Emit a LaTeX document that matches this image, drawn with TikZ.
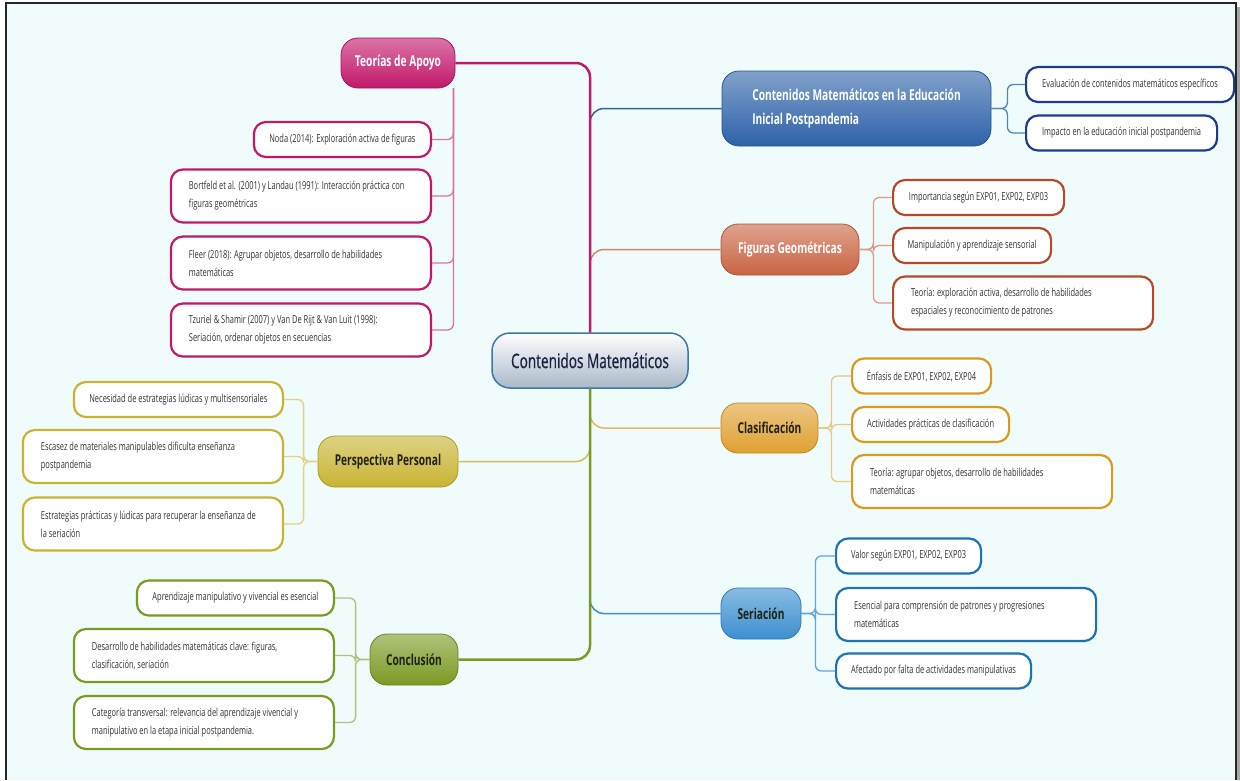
\documentclass[tikz,border=0pt]{standalone}
\usepackage{fontspec}
\setmainfont{Open Sans}[FakeStretch=0.68]
\usetikzlibrary{positioning}
\usepackage{xcolor}
\definecolor{cbg}{HTML}{F0FCFC}
\definecolor{cmag}{HTML}{C2186A}
\definecolor{cdblue}{HTML}{2D62A8}
\definecolor{cnavy}{HTML}{1F3C8C}
\definecolor{cterra}{HTML}{C96442}
\definecolor{cterrad}{HTML}{B54A2A}
\definecolor{corange}{HTML}{E0A030}
\definecolor{corganged}{HTML}{D99A1E}
\definecolor{cserie}{HTML}{3B8FCF}
\definecolor{cseried}{HTML}{1C72B4}
\definecolor{colive}{HTML}{C8B432}
\definecolor{cgreen}{HTML}{7A9A22}
\definecolor{chubline}{HTML}{3A78A8}
\definecolor{chubfill}{HTML}{A9B8C8}
\definecolor{chubtext}{HTML}{1A2040}
\definecolor{cdark}{HTML}{222214}
\definecolor{cleaftext}{HTML}{333333}

\begin{document}
\begin{tikzpicture}[x=1pt, y=-1pt,
  hub/.style={draw=chubline, line width=1.5pt, rounded corners=18pt,
              top color=white, bottom color=chubfill, text=chubtext,
              minimum width=196pt, minimum height=55pt,
              font=\fontsize{20}{22}\selectfont\addfontfeature{FakeBold=0.6}},
  topic/.style={draw=#1!85!black, line width=0.8pt, rounded corners=17pt,
                top color=#1!60!white, bottom color=#1, inner sep=0pt,
                font=\fontsize{15}{24}\selectfont\bfseries, text=cdark},
  leaf/.style={draw=#1, line width=2.2pt, fill=white, rounded corners=12pt,
               text=cleaftext, font=\fontsize{11}{18}\selectfont,
               inner xsep=8pt, inner ysep=0pt, minimum height=35pt},
  wide/.style={text width=224pt, inner xsep=18pt, align=flush left, minimum height=53pt},
  branch/.style={line width=1.5pt, rounded corners=14pt},
  twig/.style={line width=1.3pt, rounded corners=6pt}
]
  \useasboundingbox (0,0) rectangle (1240,780);
  \fill[white] (0,0) rectangle (1240,780);
  \fill[cbg] (6,3) rectangle (1236,780);
  \draw[line width=2.5pt, black!35] (1238.5,7) -- (1238.5,780);
  \draw[line width=1.5pt, black!85] (6,780) -- (6,3) -- (1236,3) -- (1236,780);

  % centre and main topics
  \node[hub] (hub) at (590,360.5) {Contenidos Matemáticos};

  \node[topic=cmag, text=white, minimum width=114pt, minimum height=50pt] (teo) at (398,63) {Teorías de Apoyo};
  \node[topic=cdblue, text=white, minimum width=269pt, minimum height=75pt, align=left] (cmei) at (856.5,108.5) {Contenidos Matemáticos en la Educación\\Inicial Postpandemia};
  \node[topic=cterra, text=white, minimum width=138pt, minimum height=51pt] (fig) at (790,249.5) {Figuras Geométricas};
  \node[topic=corange, minimum width=97pt, minimum height=50pt] (cla) at (769.5,428) {Clasificación};
  \node[topic=cserie, minimum width=80pt, minimum height=51pt] (ser) at (761,613.5) {Seriación};
  \node[topic=colive, minimum width=140pt, minimum height=51pt] (per) at (388,461.5) {Perspectiva Personal};
  \node[topic=cgreen, minimum width=88pt, minimum height=51pt] (con) at (414,659.5) {Conclusión};

  % Teorias de Apoyo
  \node[leaf=cmag, minimum width=177pt, anchor=east] (t1) at (432,139.5) {Noda (2014): Exploración activa de figuras};
  \node[leaf=cmag, wide, anchor=east] (t2) at (432,196) {Bortfeld et al. (2001) y Landau (1991): Interacción práctica con\\figuras geométricas};
  \node[leaf=cmag, wide, anchor=east] (t3) at (432,263) {Fleer (2018): Agrupar objetos, desarrollo de habilidades\\matemáticas};
  \node[leaf=cmag, wide, anchor=east] (t4) at (432,330) {Tzuriel \& Shamir (2007) y Van De Rijt \& Van Luit (1998):\\Seriación, ordenar objetos en secuencias};

  % Contenidos en la Educacion Inicial
  \node[leaf=cnavy, minimum width=208pt, anchor=west] (c1) at (1025,84.5) {Evaluación de contenidos matemáticos específicos};
  \node[leaf=cnavy, minimum width=191pt, anchor=west] (c2) at (1025,133) {Impacto en la educación inicial postpandemia};

  % Figuras
  \node[leaf=cterrad, minimum width=171pt, anchor=west] (f1) at (892,197.5) {Importancia según EXP01, EXP02, EXP03};
  \node[leaf=cterrad, minimum width=158pt, anchor=west] (f2) at (892,245.5) {Manipulación y aprendizaje sensorial};
  \node[leaf=cterrad, wide, anchor=west] (f3) at (892,303) {Teoría: exploración activa, desarrollo de habilidades\\espaciales y reconocimiento de patrones};

  % Clasificacion
  \node[leaf=corganged, minimum width=139pt, anchor=west] (k1) at (851,376) {Énfasis de EXP01, EXP02, EXP04};
  \node[leaf=corganged, minimum width=157pt, anchor=west] (k2) at (851,424.5) {Actividades prácticas de clasificación};
  \node[leaf=corganged, wide, anchor=west] (k3) at (851,481.5) {Teoría: agrupar objetos, desarrollo de habilidades\\matemáticas};

  % Seriacion
  \node[leaf=cseried, minimum width=145pt, anchor=west] (s1) at (835,556) {Valor según EXP01, EXP02, EXP03};
  \node[leaf=cseried, wide, anchor=west] (s2) at (835,614.5) {Esencial para comprensión de patrones y progresiones\\matemáticas};
  \node[leaf=cseried, minimum width=195pt, anchor=west] (s3) at (835,671) {Afectado por falta de actividades manipulativas};

  % Perspectiva Personal
  \node[leaf=colive, minimum width=209pt, anchor=east] (p1) at (284,399.5) {Necesidad de estrategias lúdicas y multisensoriales};
  \node[leaf=colive, wide, anchor=east] (p2) at (284,456.5) {Escasez de materiales manipulables dificulta enseñanza\\postpandemia};
  \node[leaf=colive, wide, anchor=east] (p3) at (284,524) {Estrategias prácticas y lúdicas para recuperar la enseñanza de\\la seriación};

  % Conclusion
  \node[leaf=cgreen, minimum width=197pt, anchor=east] (n1) at (335,598) {Aprendizaje manipulativo y vivencial es esencial};
  \node[leaf=cgreen, wide, anchor=east] (n2) at (335,655.5) {Desarrollo de habilidades matemáticas clave: figuras,\\clasificación, seriación};
  \node[leaf=cgreen, wide, anchor=east] (n3) at (335,722.5) {Categoría transversal: relevancia del aprendizaje vivencial y\\manipulativo en la etapa inicial postpandemia.};

  % branches from the centre
  \draw[branch, cdblue] (hub.north) |- (cmei.west);
  \draw[branch, cterra!80] (hub.north) |- (fig.west);
  \draw[branch, cmag, line width=2.5pt] (hub.north) |- (teo.east);
  \draw[branch, corange!75] (hub.south) |- (cla.west);
  \draw[branch, cserie] (hub.south) |- (ser.west);
  \draw[branch, colive!85] (hub.south) |- (per.east);
  \draw[branch, cgreen, line width=2.5pt] (hub.south) |- (con.east);

  % twigs to the leaves
  \coordinate (teoS) at ([xshift=-2pt]teo.south east);
  \coordinate (cmeiS) at ([xshift=16pt]cmei.east);
  \coordinate (figS) at ([xshift=14pt]fig.east);
  \coordinate (claS) at ([xshift=13pt]cla.east);
  \coordinate (serS) at ([xshift=14pt]ser.east);
  \coordinate (perS) at ([xshift=-14pt]per.west);
  \coordinate (conS) at ([xshift=-14pt]con.west);
  \foreach \n in {t1,t2,t3,t4} \draw[twig, cmag!60] (teoS) |- (\n.east);
  \foreach \n in {c1,c2} \draw[twig, cdblue!80] (cmei.east) -- (cmeiS) |- (\n.west);
  \foreach \n in {f1,f2,f3} \draw[twig, cterra!65] (fig.east) -- (figS) |- (\n.west);
  \foreach \n in {k1,k2,k3} \draw[twig, corange!60] (cla.east) -- (claS) |- (\n.west);
  \foreach \n in {s1,s2,s3} \draw[twig, cserie!80] (ser.east) -- (serS) |- (\n.west);
  \foreach \n in {p1,p2,p3} \draw[twig, colive!60] (per.west) -- (perS) |- (\n.east);
  \foreach \n in {n1,n2,n3} \draw[twig, cgreen!60] (con.west) -- (conS) |- (\n.east);
\end{tikzpicture}
\end{document}
